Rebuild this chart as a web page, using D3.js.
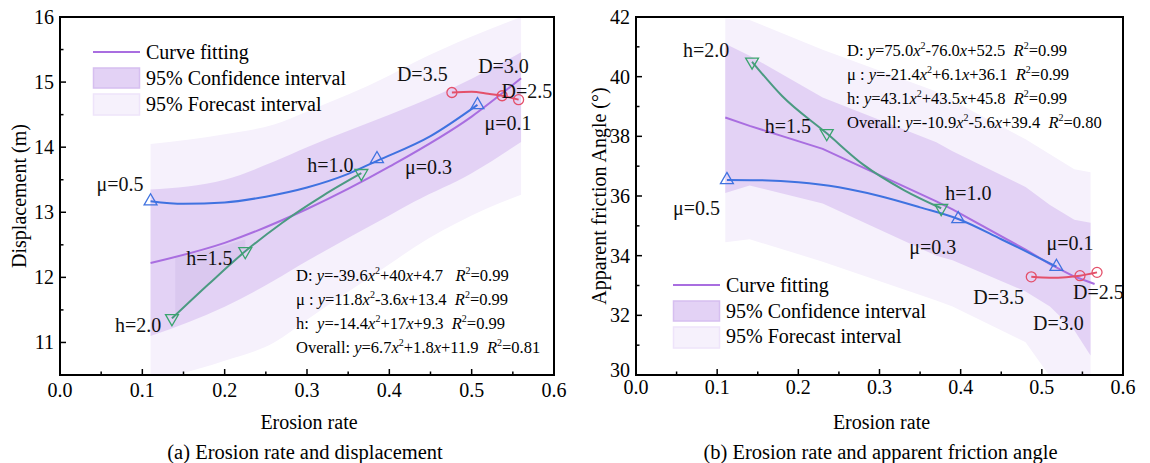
<!DOCTYPE html>
<html>
<head>
<meta charset="utf-8">
<script src="https://cdn.jsdelivr.net/npm/d3@7"></script>
<style>
body { margin: 0; background: #fff; }
text { font-family: 'Liberation Serif', 'DejaVu Serif', serif; }
</style>
</head>
<body>
<svg id="chart" width="1150" height="463" font-family="Liberation Serif, DejaVu Serif, serif"></svg>
<script>
// ---------- data ----------
var xTicks = [0, 0.1, 0.2, 0.3, 0.4, 0.5, 0.6];
var muNames = ["μ=0.5", "μ=0.3", "μ=0.1"];
var hNames = ["h=2.0", "h=1.5", "h=1.0"];
var dNames = ["D=3.5", "D=3.0", "D=2.5"];
var legendNames = ["Curve fitting", "95% Confidence interval", "95% Forecast interval"];

// (a) erosion rate vs displacement
var dispMuX = [0.11, 0.385, 0.507], dispMuY = [13.17, 13.82, 14.65];
var dispHX = [0.136, 0.225, 0.366], dispHY = [11.37, 12.40, 13.60];
var dispDX = [0.476, 0.537, 0.557], dispDY = [14.84, 14.79, 14.73];
var dispMuCurveX = [0.11, 0.15, 0.2, 0.25, 0.3, 0.35, 0.385, 0.45, 0.507];
var dispMuCurveY = [13.17, 13.13, 13.15, 13.24, 13.38, 13.59, 13.79, 14.17, 14.65];
var dispHCurveX = [0.136, 0.18, 0.225, 0.27, 0.32, 0.366];
var dispHCurveY = [11.37, 11.89, 12.40, 12.84, 13.26, 13.60];
var dispDCurveX = [0.476, 0.5, 0.52, 0.537, 0.557];
var dispDCurveY = [14.84, 14.85, 14.82, 14.79, 14.73];
var dispFitX = [0.11, 0.2, 0.3, 0.4, 0.5, 0.56];
var dispFitY = [12.22, 12.53, 13.05, 13.70, 14.47, 15.06];
var dispBandX = [0.11, 0.2, 0.26, 0.3, 0.4, 0.43, 0.5, 0.56];
var dispConfHi = [13.35, 13.5, 13.78, 14.0, 14.5, 14.65, 15.05, 15.46];
var dispConfLo = [11.1, 11.55, 11.95, 12.25, 12.95, 13.16, 13.6, 14.08];
var dispPredHi = [14.05, 14.2, 14.35, 14.55, 15.1, 15.3, 15.7, 16.0];
var dispPredLo = [10.4, 10.72, 11.0, 11.35, 12.2, 12.46, 12.95, 13.27];
// slightly darker overlap patch between the fit and the h curve
var dispPatchX = [0.14, 0.18, 0.225];
var dispPatchLo = [11.45, 11.89, 12.40];
var dispPatchHi = [12.30, 12.42, 12.58];
var dispEq = [
  ["D: ", "=-39.6", "+40", "+4.7   ", "=0.99"],
  ["μ : ", "=11.8", "-3.6", "+13.4  ", "=0.99"],
  ["h:  ", "=-14.4", "+17", "+9.3  ", "=0.99"],
  ["Overall: ", "=6.7", "+1.8", "+11.9  ", "=0.81"]
];

// (b) erosion rate vs apparent friction angle
var fricMuX = [0.112, 0.397, 0.518], fricMuY = [36.54, 35.23, 33.63];
var fricHX = [0.143, 0.235, 0.376], fricHY = [40.50, 38.10, 35.59];
var fricDX = [0.487, 0.547, 0.568], fricDY = [33.29, 33.33, 33.44];
var fricMuCurveX = [0.112, 0.15, 0.2, 0.25, 0.3, 0.35, 0.397, 0.45, 0.518];
var fricMuCurveY = [36.54, 36.53, 36.46, 36.29, 36.0, 35.62, 35.23, 34.55, 33.63];
var fricHCurveX = [0.143, 0.18, 0.235, 0.28, 0.33, 0.376];
var fricHCurveY = [40.50, 39.35, 38.10, 37.05, 36.20, 35.59];
var fricDCurveX = [0.487, 0.51, 0.53, 0.547, 0.568];
var fricDCurveY = [33.29, 33.26, 33.28, 33.33, 33.44];
var fricFitX = [0.11, 0.14, 0.23, 0.37, 0.39, 0.48, 0.51, 0.54, 0.565];
var fricFitY = [38.63, 38.35, 37.58, 35.82, 35.55, 34.2, 33.72, 33.3, 33.05];
var fricBandX = [0.11, 0.14, 0.23, 0.37, 0.39, 0.48, 0.51, 0.54, 0.56];
var fricConfHi = [41.1, 40.7, 39.3, 37.8, 37.5, 36.3, 35.7, 35.2, 35.1];
var fricConfLo = [36.1, 36.35, 35.75, 34.0, 33.85, 32.8, 32.3, 31.5, 30.65];
var fricPredHi = [41.95, 41.9, 40.9, 39.5, 39.2, 37.9, 37.4, 36.9, 36.8];
var fricPredLo = [34.45, 34.55, 33.8, 32.5, 32.3, 31.1, 29.95, 29.3, 28.6];
var fricEq = [
  ["D: ", "=75.0", "-76.0", "+52.5  ", "=0.99"],
  ["μ : ", "=-21.4", "+6.1", "+36.1  ", "=0.99"],
  ["h: ", "=43.1", "+43.5", "+45.8  ", "=0.99"],
  ["Overall: ", "=-10.9", "-5.6", "+39.4  ", "=0.80"]
];

// ---------- styling ----------
var FONT = "'Liberation Serif', 'DejaVu Serif', serif";
var colMu = "#3f72e0", colH = "#4b9a82", colHm = "#3aa46e", colD = "#e4506a";
var colFit = "#a96ee0", colConf = "#e3d2f5", colPred = "#f6f1fc";

var svg = d3.select("#chart");
svg.append("rect").attr("width", 1150).attr("height", 463).attr("fill", "#fff");

function zip(xs, ys) { return xs.map(function(x, i) { return [x, ys[i]]; }); }

function drawPanel(p) {
  var x = d3.scaleLinear().domain([0, 0.6]).range([p.left, p.right]);
  var y = d3.scaleLinear().domain(p.yDomain).range([375, 17]);
  var g = svg.append("g").style("font-family", FONT);

  var clipId = "clip-" + p.id;
  svg.append("clipPath").attr("id", clipId).append("rect")
    .attr("x", p.left).attr("y", 17).attr("width", p.right - p.left).attr("height", 358);

  var bands = g.append("g").attr("clip-path", "url(#" + clipId + ")");
  var area = d3.area()
    .x(function(d) { return x(d[0]); })
    .y0(function(d) { return y(d[1]); })
    .y1(function(d) { return y(d[2]); })
    .curve(p.bandCurve);
  var pred = p.bandX.map(function(v, i) { return [v, p.predLo[i], p.predHi[i]]; });
  var conf = p.bandX.map(function(v, i) { return [v, p.confLo[i], p.confHi[i]]; });
  bands.append("path").attr("d", area(pred)).attr("fill", colPred);
  bands.append("path").attr("d", area(conf)).attr("fill", colConf);
  if (p.patchX) {
    var patch = p.patchX.map(function(v, i) { return [v, p.patchLo[i], p.patchHi[i]]; });
    bands.append("path").attr("d", area.curve(d3.curveMonotoneX)(patch)).attr("fill", "#dac8ef");
  }

  var line = d3.line().x(function(d) { return x(d[0]); }).y(function(d) { return y(d[1]); });
  g.append("path").attr("d", line.curve(p.bandCurve)(zip(p.fitX, p.fitY)))
    .attr("fill", "none").attr("stroke", colFit).attr("stroke-width", 2);

  var series = [
    { cx: p.muCX, cy: p.muCY, px: p.muX, py: p.muY, color: colMu, mcol: colMu, sym: "up", names: muNames, off: p.muOff },
    { cx: p.hCX, cy: p.hCY, px: p.hX, py: p.hY, color: colH, mcol: colHm, sym: "down", names: hNames, off: p.hOff },
    { cx: p.dCX, cy: p.dCY, px: p.dX, py: p.dY, color: colD, mcol: colD, sym: "circle", names: dNames, off: p.dOff }
  ];
  series.forEach(function(s) {
    g.append("path").attr("d", line.curve(d3.curveMonotoneX)(zip(s.cx, s.cy)))
      .attr("fill", "none").attr("stroke", s.color).attr("stroke-width", 2);
    var pts = zip(s.px, s.py);
    if (s.sym === "circle") {
      g.selectAll(null).data(pts).enter().append("circle")
        .attr("cx", function(d) { return x(d[0]); })
        .attr("cy", function(d) { return y(d[1]); })
        .attr("r", 5).attr("fill", "none").attr("stroke", s.mcol).attr("stroke-width", 1.3);
    } else {
      g.selectAll(null).data(pts).enter().append("path")
        .attr("d", d3.symbol().type(d3.symbolTriangle).size(72))
        .attr("transform", function(d) {
          return "translate(" + x(d[0]) + "," + y(d[1]) + ")" + (s.sym === "down" ? " rotate(180)" : "");
        })
        .attr("fill", "none").attr("stroke", s.mcol).attr("stroke-width", 1.3);
    }
    g.selectAll(null).data(pts).enter().append("text")
      .attr("x", function(d, i) { return x(d[0]) + s.off[i][0]; })
      .attr("y", function(d, i) { return y(d[1]) + s.off[i][1]; })
      .attr("font-size", 20).attr("fill", "#111")
      .text(function(d, i) { return s.names[i]; });
  });

  // frame and ticks
  g.append("rect").attr("x", p.left).attr("y", 17).attr("width", p.right - p.left).attr("height", 358)
    .attr("fill", "none").attr("stroke", "#000").attr("stroke-width", 2);

  var xMinor = d3.range(0.05, 0.6, 0.1);
  g.selectAll(null).data(xTicks).enter().append("line")
    .attr("x1", function(d) { return x(d); }).attr("x2", function(d) { return x(d); })
    .attr("y1", 375).attr("y2", 369).attr("stroke", "#000").attr("stroke-width", 1.5);
  g.selectAll(null).data(xMinor).enter().append("line")
    .attr("x1", function(d) { return x(d); }).attr("x2", function(d) { return x(d); })
    .attr("y1", 375).attr("y2", 371.5).attr("stroke", "#000").attr("stroke-width", 1.5);
  g.selectAll(null).data(xTicks).enter().append("text")
    .attr("x", function(d) { return x(d); }).attr("y", p.xLabelY)
    .attr("text-anchor", "middle").attr("font-size", 20)
    .text(function(d) { return d3.format(".1f")(d); });

  g.selectAll(null).data(p.yTicks).enter().append("line")
    .attr("x1", p.left).attr("x2", p.left + 6)
    .attr("y1", function(d) { return y(d); }).attr("y2", function(d) { return y(d); })
    .attr("stroke", "#000").attr("stroke-width", 1.5);
  g.selectAll(null).data(p.yMinor).enter().append("line")
    .attr("x1", p.left).attr("x2", p.left + 3.5)
    .attr("y1", function(d) { return y(d); }).attr("y2", function(d) { return y(d); })
    .attr("stroke", "#000").attr("stroke-width", 1.5);
  g.selectAll(null).data(p.yTicks).enter().append("text")
    .attr("x", p.left - 6).attr("y", function(d) { return y(d) + 7 + (d === p.yDomain[0] ? p.y0Shift : 0); })
    .attr("text-anchor", "end").attr("font-size", 20)
    .text(function(d) { return d; });

  // titles
  g.append("text").attr("transform", "translate(" + p.yTitleX + ",196) rotate(-90)")
    .attr("text-anchor", "middle").attr("font-size", 20).text(p.yTitle);
  g.append("text").attr("x", (p.left + p.right) / 2 + 2).attr("y", 429)
    .attr("text-anchor", "middle").attr("font-size", 20).text("Erosion rate");
  g.append("text").attr("x", (p.left + p.right) / 2 + p.capDx).attr("y", 459)
    .attr("text-anchor", "middle").attr("font-size", 20.5).text(p.caption);

  // equations
  p.eq.forEach(function(e, i) {
    var t = g.append("text").attr("x", p.eqX).attr("y", p.eqY + i * 24)
      .attr("font-size", 16.5).style("white-space", "pre");
    t.append("tspan").text(e[0]);
    t.append("tspan").attr("font-style", "italic").text("y");
    t.append("tspan").text(e[1]);
    t.append("tspan").attr("font-style", "italic").text("x");
    t.append("tspan").attr("font-size", 10).attr("dy", -7).text("2");
    t.append("tspan").attr("dy", 7).text(e[2]);
    t.append("tspan").attr("font-style", "italic").text("x");
    t.append("tspan").text(e[3]);
    t.append("tspan").attr("font-style", "italic").text("R");
    t.append("tspan").attr("font-size", 10).attr("dy", -7).text("2");
    t.append("tspan").attr("dy", 7).text(e[4]);
  });

  // legend
  var lg = g.append("g").attr("transform", "translate(" + p.legX + "," + p.legY + ")");
  lg.append("line").attr("x1", 0).attr("x2", 47).attr("y1", 0).attr("y2", 0)
    .attr("stroke", colFit).attr("stroke-width", 2);
  lg.append("rect").attr("x", 0.5).attr("y", 16).attr("width", 46).attr("height", 20)
    .attr("fill", colConf).attr("stroke", "#d6bff0").attr("stroke-width", 1.5);
  lg.append("rect").attr("x", 0.5).attr("y", 42).attr("width", 46).attr("height", 21)
    .attr("fill", colPred).attr("stroke", "#eee4fa").attr("stroke-width", 1.5);
  lg.selectAll(null).data(legendNames).enter().append("text")
    .attr("x", 53).attr("y", function(d, i) { return 7 + i * p.legStep; })
    .attr("font-size", 20).text(function(d) { return d; });
}

whenDocumentLoaded(function() {
  drawPanel({
    id: "a", left: 60, right: 554, yDomain: [10.5, 16],
    yTicks: [11, 12, 13, 14, 15, 16], yMinor: [10.5, 11.5, 12.5, 13.5, 14.5, 15.5],
    yTitle: "Displacement (m)", yTitleX: 26, xLabelY: 397, capDx: -2, y0Shift: 0,
    caption: "(a) Erosion rate and displacement",
    bandCurve: d3.curveMonotoneX,
    bandX: dispBandX, confHi: dispConfHi, confLo: dispConfLo, predHi: dispPredHi, predLo: dispPredLo,
    patchX: dispPatchX, patchLo: dispPatchLo, patchHi: dispPatchHi,
    fitX: dispFitX, fitY: dispFitY,
    muX: dispMuX, muY: dispMuY, muCX: dispMuCurveX, muCY: dispMuCurveY,
    hX: dispHX, hY: dispHY, hCX: dispHCurveX, hCY: dispHCurveY,
    dX: dispDX, dY: dispDY, dCX: dispDCurveX, dCY: dispDCurveY,
    muOff: [[-54, -10], [28, 15], [7, 25]],
    hOff: [[-57, 14], [-59, 14], [-54, -1]],
    dOff: [[-55, -12], [-24, -23], [-17, -2]],
    eq: dispEq, eqX: 296, eqY: 281,
    legX: 93, legY: 52, legStep: 26
  });
  drawPanel({
    id: "b", left: 636, right: 1123, yDomain: [30, 42],
    yTicks: [30, 32, 34, 36, 38, 40, 42], yMinor: [31, 33, 35, 37, 39, 41],
    yTitle: "Apparent friction Angle (°)", yTitleX: 606, xLabelY: 394, capDx: 1, y0Shift: -5,
    caption: "(b) Erosion rate and apparent friction angle",
    bandCurve: d3.curveLinear,
    bandX: fricBandX, confHi: fricConfHi, confLo: fricConfLo, predHi: fricPredHi, predLo: fricPredLo,
    fitX: fricFitX, fitY: fricFitY,
    muX: fricMuX, muY: fricMuY, muCX: fricMuCurveX, muCY: fricMuCurveY,
    hX: fricHX, hY: fricHY, hCX: fricHCurveX, hCY: fricHCurveY,
    dX: fricDX, dY: fricDY, dCX: fricDCurveX, dCY: fricDCurveY,
    muOff: [[-54, 35], [-49, 35], [-10, -17]],
    hOff: [[-69, -5], [-62, 0], [4, -8]],
    dOff: [[-58, 27], [-47, 54], [-24, 27]],
    eq: fricEq, eqX: 847, eqY: 56,
    legX: 673, legY: 285, legStep: 25.5
  });
});

function whenDocumentLoaded(action) {
  if (document.readyState === "loading") {
    document.addEventListener("DOMContentLoaded", action);
  } else {
    action();
  }
}
</script>
</body>
</html>
